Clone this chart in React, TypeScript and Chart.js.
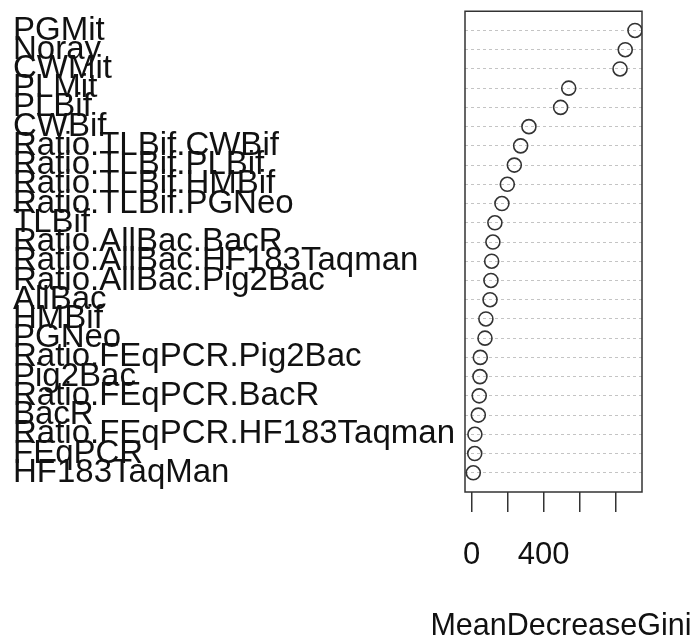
import React, { useEffect, useRef } from "react";
import { Chart, registerables } from "chart.js";

Chart.register(...registerables);

const variables = [
  "PGMit",
  "Noray",
  "CWMit",
  "PLMit",
  "PLBif",
  "CWBif",
  "Ratio.TLBif.CWBif",
  "Ratio.TLBif.PLBif",
  "Ratio.TLBif.HMBif",
  "Ratio.TLBif.PGNeo",
  "TLBif",
  "Ratio.AllBac.BacR",
  "Ratio.AllBac.HF183Taqman",
  "Ratio.AllBac.Pig2Bac",
  "AllBac",
  "HMBif",
  "PGNeo",
  "Ratio.FEqPCR.Pig2Bac",
  "Pig2Bac",
  "Ratio.FEqPCR.BacR",
  "BacR",
  "Ratio.FEqPCR.HF183Taqman",
  "FEqPCR",
  "HF183TaqMan",
];

const meanDecreaseGini = [
  907, 853, 824, 539, 494, 318, 272, 237, 198, 168, 129, 118, 111, 107, 102,
  79, 74, 48, 46, 42, 37, 18, 17, 9,
];

const xTicks = [0, 200, 400, 600, 800];
const xTickLabels = ["0", "", "400", "", ""];
const xTitle = "MeanDecreaseGini";

const FONT = "'Liberation Sans', Arial, Helvetica, sans-serif";

export default function App() {
  const ref = useRef<HTMLCanvasElement | null>(null);

  useEffect(() => {
    if (!ref.current) return;
    const n = variables.length;
    const points = meanDecreaseGini.map((v, i) => ({ x: v, y: n - i }));

    const boxPlugin = {
      id: "boxAndTitle",
      afterDraw(chart: any) {
        const { ctx, chartArea } = chart;
        ctx.save();
        ctx.strokeStyle = "#333";
        ctx.lineWidth = 1.5;
        ctx.strokeRect(
          chartArea.left,
          chartArea.top,
          chartArea.right - chartArea.left,
          chartArea.bottom - chartArea.top
        );
        ctx.fillStyle = "#111";
        ctx.font = `30.5px ${FONT}`;
        ctx.textAlign = "center";
        ctx.textBaseline = "middle";
        ctx.fillText(xTitle, 561, 627);
        ctx.restore();
      },
    };

    const chart = new Chart(ref.current, {
      type: "scatter",
      data: {
        datasets: [
          {
            data: points,
            pointStyle: "circle",
            pointRadius: 7,
            pointBorderWidth: 1.6,
            pointBorderColor: "#333",
            pointBackgroundColor: "rgba(0,0,0,0)",
            showLine: false,
          },
        ],
      },
      options: {
        animation: false,
        responsive: false,
        maintainAspectRatio: false,
        layout: { padding: { left: 13, top: 10, right: 53, bottom: 0 } },
        plugins: {
          legend: { display: false },
          tooltip: { enabled: false },
        },
        scales: {
          x: {
            type: "linear",
            min: -37,
            max: 946,
            afterBuildTicks(scale: any) {
              scale.ticks = xTicks.map((v) => ({ value: v }));
            },
            afterFit(scale: any) {
              scale.height = 152;
            },
            ticks: {
              autoSkip: false,
              maxRotation: 0,
              padding: 25,
              color: "#111",
              font: { family: FONT, size: 31 },
              callback: (v: any) => {
                const i = xTicks.indexOf(Number(v));
                return i >= 0 ? xTickLabels[i] : "";
              },
            },
            grid: {
              drawOnChartArea: false,
              drawTicks: true,
              tickLength: 20,
              color: "#333",
              lineWidth: 1.5,
            },
            border: { display: false },
          },
          y: {
            type: "linear",
            min: 0,
            max: n + 1,
            afterBuildTicks(scale: any) {
              const t = [];
              for (let k = 1; k <= n; k++) t.push({ value: k });
              scale.ticks = t;
            },
            afterFit(scale: any) {
              scale.width = 452;
            },
            ticks: {
              autoSkip: false,
              crossAlign: "far",
              color: "#111",
              font: { family: FONT, size: 33, lineHeight: 0.5 },
              callback: (v: any) => variables[n - Number(v)] ?? "",
            },
            grid: {
              drawTicks: false,
              color: "#c4c4c4",
              lineWidth: 1,
            },
            border: { display: false, dash: [3, 3] },
          },
        },
      },
      plugins: [boxPlugin],
    } as any);

    return () => chart.destroy();
  }, []);

  return (
    <div style={{ position: "absolute", left: 0, top: 0, width: 695, height: 644, background: "#fff" }}>
      <canvas ref={ref} width={695} height={644} style={{ display: "block" }} />
    </div>
  );
}
